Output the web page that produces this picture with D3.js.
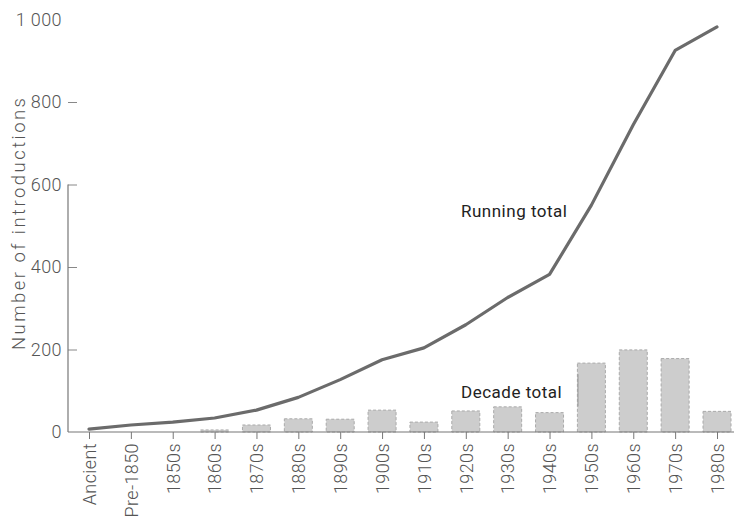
<!DOCTYPE html>
<html>
<head>
<script src="https://d3js.org/d3.v7.min.js"></script>
<style>
  body { margin: 0; background: #fff; }
  text { font-family: Roboto, "DejaVu Sans", sans-serif; }
</style>
</head>
<body>
<svg id="chart" width="734" height="526"></svg>
<script>
// categories along the bottom
var decades = ["Ancient", "Pre-1850", "1850s", "1860s", "1870s", "1880s", "1890s", "1900s",
               "1910s", "1920s", "1930s", "1940s", "1950s", "1960s", "1970s", "1980s"];
// cumulative number of introductions
var runningTotal = [7, 17, 24, 34, 53, 84, 127, 175, 204, 260, 326, 382, 550, 745, 925, 982];
// introductions within each decade
var decadeTotal = [0, 0, 0, 5, 17, 32, 31, 53, 24, 51, 61, 47, 167, 199, 178, 50];
var yTicks = [0, 200, 400, 600, 800, 1000];

var svg = d3.select("#chart");

var x = d3.scalePoint().domain(decades).range([89, 717]);
var y = d3.scaleLinear().domain([0, 1000]).range([432, 19.5]);
var barW = 28;

// decade bars
svg.append("g").selectAll("rect")
  .data(decades)
  .enter().append("rect")
  .attr("x", function(d) { return x(d) - barW / 2; })
  .attr("y", function(d, i) { return y(decadeTotal[i]); })
  .attr("width", barW)
  .attr("height", function(d, i) { return y(0) - y(decadeTotal[i]); })
  .attr("fill", "#cdcdcd")
  .attr("stroke", "#aaa")
  .attr("stroke-width", 1)
  .attr("stroke-dasharray", "3,2");

// x axis
var xAxis = svg.append("g")
  .attr("transform", "translate(0," + y(0) + ")")
  .call(d3.axisBottom(x).tickSize(7).tickSizeOuter(0));
xAxis.select(".domain").remove();
xAxis.append("line")
  .attr("x1", 68).attr("x2", 734)
  .attr("stroke", "#777").attr("stroke-width", 1.2);
xAxis.selectAll(".tick line").attr("stroke", "#777");
xAxis.selectAll(".tick text")
  .attr("transform", "rotate(-90)")
  .attr("x", -11).attr("y", 0).attr("dy", "0.35em")
  .style("text-anchor", "end")
  .style("font-size", "18px")
  .style("letter-spacing", "0.4px")
  .style("font-weight", 300)
  .attr("fill", "#555");

// y axis
var yAxis = svg.append("g")
  .attr("transform", "translate(68,0)")
  .call(d3.axisLeft(y).tickValues(yTicks).tickSize(-9)
    .tickFormat(function(d) { return d === 1000 ? "1 000" : d; }));
yAxis.select(".domain").remove();
yAxis.append("line")
  .attr("y1", y(0)).attr("y2", y(600))
  .attr("stroke", "#777").attr("stroke-width", 1.2);
yAxis.selectAll(".tick line")
  .attr("stroke", "#888")
  .attr("opacity", function(d) { return d === 0 || d === 1000 ? 0 : 1; });
yAxis.selectAll(".tick text")
  .attr("x", -6)
  .style("font-size", "18px")
  .style("letter-spacing", "0.4px")
  .style("font-weight", 300)
  .attr("fill", "#555");

svg.append("text")
  .attr("transform", "translate(19," + 224 + ") rotate(-90)")
  .attr("text-anchor", "middle")
  .attr("dy", "0.35em")
  .attr("textLength", 252)
  .attr("lengthAdjust", "spacing")
  .style("font-size", "18.5px")
  .style("font-weight", 300)
  .attr("fill", "#555")
  .text("Number of introductions");

// running total line
var line = d3.line()
  .x(function(d, i) { return x(decades[i]); })
  .y(function(d) { return y(d); });

svg.append("path")
  .datum(runningTotal)
  .attr("d", line)
  .attr("fill", "none")
  .attr("stroke", "#6b6b6b")
  .attr("stroke-width", 3.2)
  .attr("stroke-linejoin", "round")
  .attr("stroke-linecap", "round");

// series labels
svg.append("text")
  .attr("x", 461).attr("y", 217)
  .style("font-size", "17px")
  .style("letter-spacing", "0.5px")
  .style("font-weight", 400)
  .attr("fill", "#222")
  .text("Running total");

svg.append("text")
  .attr("x", 461).attr("y", 398)
  .style("font-size", "17px")
  .style("letter-spacing", "0.5px")
  .style("font-weight", 400)
  .attr("fill", "#222")
  .text("Decade total");

svg.append("line")
  .attr("x1", 578).attr("x2", 578)
  .attr("y1", y(140)).attr("y2", y(62))
  .attr("stroke", "#999").attr("stroke-width", 1);
</script>
</body>
</html>
